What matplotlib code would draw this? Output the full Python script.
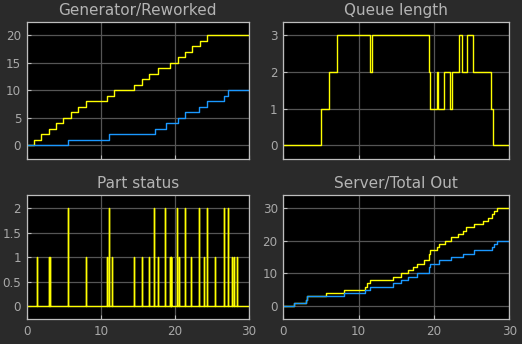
import numpy as np
import matplotlib
matplotlib.use('Agg')
import matplotlib.pyplot as plt
from matplotlib.ticker import FormatStrFormatter

# Generator / Reworked (top left)
gen_t = [1.03, 1.98, 3.06, 4.0, 4.95, 6.03, 6.97, 8.05, 10.89, 11.84,
         14.54, 15.6, 16.57, 17.78, 19.4, 20.48, 21.43, 22.37, 23.45, 24.39]
gen_v = [1, 2, 3, 4, 5, 6, 7, 8, 9, 10, 11, 12, 13, 14, 15, 16, 17, 18, 19, 20]
rew_t = [5.62, 11.16, 17.25, 18.74, 20.4, 21.43, 23.23, 24.31, 26.6, 27.15]
rew_v = [1, 2, 3, 4, 5, 6, 7, 8, 9, 10]

# Queue length (top right)
queue_t = [5.05, 6.02, 7.09, 11.55, 11.81, 19.38, 19.51, 20.45, 20.58, 21.37,
           22.17, 22.44, 23.37, 23.77, 24.43, 25.23, 27.62, 27.89]
queue_v = [1, 2, 3, 2, 3, 2, 1, 2, 1, 2, 1, 2, 3, 2, 3, 2, 1, 0]

# Part status (bottom left)
status_t = [1.44, 3.06, 3.19, 5.62, 8.05, 10.89, 11.16, 11.56, 14.54, 15.62,
            16.57, 17.24, 17.78, 18.73, 19.4, 19.44, 19.5, 20.35, 20.62, 21.43,
            22.24, 23.19, 23.86, 24.27, 25.35, 26.57, 27.11, 27.65, 27.92, 28.32]
status_v = [1, 1, 1, 2, 1, 1, 2, 1, 1, 1,
            1, 2, 1, 2, 1, 1, 1, 2, 1, 2,
            1, 2, 1, 2, 1, 2, 2, 1, 1, 1]

# Server / Total out (bottom right)
total_t = [1.44, 3.06, 3.19, 5.62, 8.05, 10.89, 11.16, 11.56, 14.54, 15.62,
           16.57, 17.24, 17.78, 18.73, 19.4, 19.5, 20.35, 20.62, 21.43,
           22.24, 23.19, 23.86, 24.27, 25.35, 26.57, 27.11, 27.65, 27.92, 28.32]
total_v = [1, 2, 3, 4, 5, 6, 7, 8, 9, 10,
           11, 12, 13, 14, 16, 17, 18, 19, 20,
           21, 22, 23, 24, 25, 26, 27, 28, 29, 30]
server_t = [1.44, 3.06, 3.19, 8.05, 10.89, 11.56, 14.54, 15.62, 16.57, 17.78,
            19.4, 19.5, 20.62, 22.24, 23.86, 25.35, 27.65, 27.92, 28.32]
server_v = [1, 2, 3, 4, 5, 6, 7, 8, 9, 10,
            12, 13, 14, 15, 16, 17, 18, 19, 20]

T_END = 30
YELLOW = '#ffff00'
BLUE = '#1a98ff'
FIG_BG = '#2a2a2a'
TXT = '#a9a9a9'

fig = plt.figure(figsize=(5.22, 3.44), dpi=100, facecolor=FIG_BG)

def px_axes(x0, y0, x1, y1):
    return fig.add_axes([x0 / 522, 1 - y1 / 344, (x1 - x0) / 522, (y1 - y0) / 344])

def style(ax, title, yticks, ylim, xlabels):
    ax.set_facecolor('black')
    ax.set_xlim(0, T_END)
    ax.set_ylim(*ylim)
    ax.set_xticks([0, 10, 20, 30])
    ax.set_yticks(yticks)
    ax.yaxis.set_major_formatter(FormatStrFormatter('%g'))
    if not xlabels:
        ax.set_xticklabels([])
    ax.grid(True, color='#555555', linewidth=0.9)
    ax.set_axisbelow(True)
    for s in ax.spines.values():
        s.set_color('#bdbdbd')
        s.set_linewidth(0.9)
    ax.tick_params(direction='in', length=3, color='#bdbdbd', labelcolor=TXT,
                   labelsize=8.6, pad=4)
    ax.set_title(title, color='#b4b4b4', fontsize=11, pad=5)

def steps(ax, t, v, color):
    x = np.r_[0, t, T_END]
    y = np.r_[0, v, v[-1]]
    ax.step(x, y, where='post', color=color, linewidth=1.0)

ax1 = px_axes(26.7, 22, 249, 159)
steps(ax1, gen_t, gen_v, YELLOW)
steps(ax1, rew_t, rew_v, BLUE)
style(ax1, 'Generator/Reworked', [0, 5, 10, 15, 20], (-2.5, 22.4), False)

ax2 = px_axes(283.3, 22, 509.3, 159)
steps(ax2, queue_t, queue_v, YELLOW)
style(ax2, 'Queue length', [0, 1, 2, 3], (-0.37, 3.36), False)

ax3 = px_axes(26.7, 195.3, 249, 319)
px, py = [0], [0]
for t, s in zip(status_t, status_v):
    px += [t, t, t]
    py += [0, s, 0]
px.append(T_END)
py.append(0)
ax3.plot(px, py, color=YELLOW, linewidth=1.0)
style(ax3, 'Part status', [0, 0.5, 1, 1.5, 2], (-0.26, 2.26), True)

ax4 = px_axes(283.3, 195.3, 509.3, 319)
steps(ax4, total_t, total_v, YELLOW)
steps(ax4, server_t, server_v, BLUE)
style(ax4, 'Server/Total Out', [0, 10, 20, 30], (-3.9, 33.8), True)

fig.savefig('out.png', dpi=100, facecolor=FIG_BG)
